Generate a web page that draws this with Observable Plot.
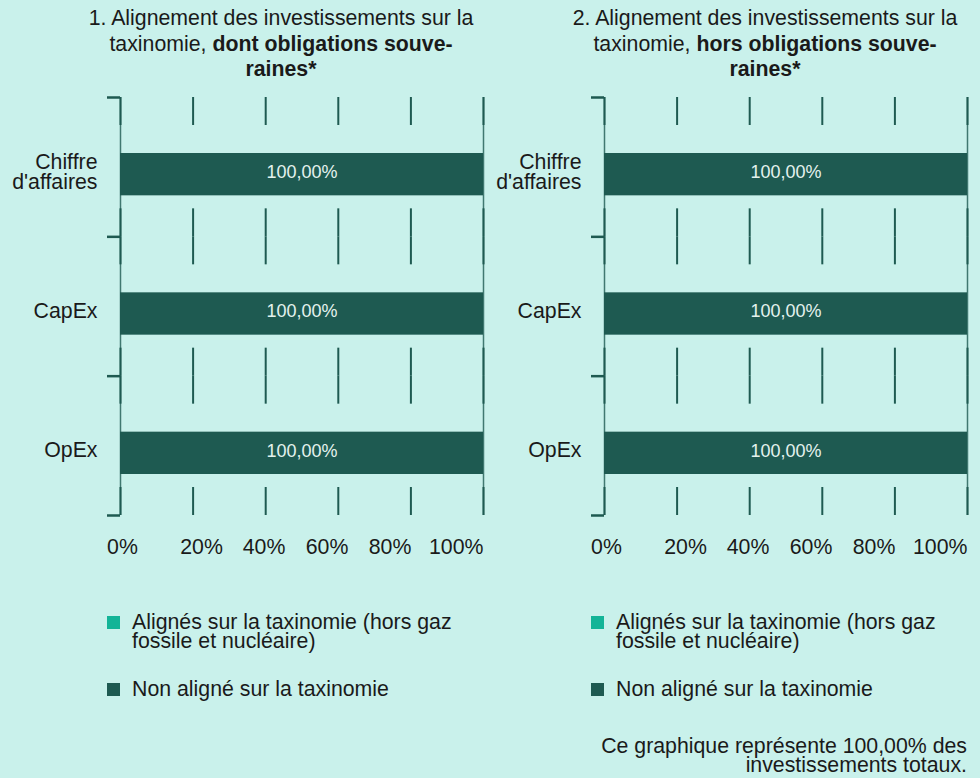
<!DOCTYPE html>
<html lang="fr">
<head>
<meta charset="utf-8">
<script src="https://cdn.jsdelivr.net/npm/d3@7"></script>
<script src="https://cdn.jsdelivr.net/npm/@observablehq/plot@0.6"></script>
<style>
  html, body { margin: 0; padding: 0; background: #c9f1eb; }
  body { font-family: "Liberation Sans", Arial, Helvetica, sans-serif; color: #1a1a1a; }
  #root { position: relative; width: 980px; height: 778px; overflow: hidden; }
  .title { position: absolute; top: 6px; width: 400px; text-align: center; font-size: 21.3px; line-height: 25.5px; }
  .chart { position: absolute; top: 90px; }
  .sw { position: absolute; width: 13px; height: 13px; }
  .ln { position: absolute; font-size: 21.3px; line-height: 19px; height: 19px; white-space: nowrap; }
  .ln.r { text-align: right; right: 13px; }
</style>
</head>
<body>
<div id="root"></div>
<script>
// ---------- data ----------
const categories = ["Chiffre d'affaires", "CapEx", "OpEx"];
const categoryLabels = ["Chiffre\nd'affaires", "CapEx", "OpEx"];

const titleLine1 = ["1. Alignement des investissements sur la", "2. Alignement des investissements sur la"];
const titleLine2Plain = ["taxinomie, ", "taxinomie, "];
const titleLine2Bold = ["dont obligations souve-", "hors obligations souve-"];
const titleLine3Bold = ["raines*", "raines*"];

const seriesNames = ["Alignés sur la taxinomie (hors gaz fossile et nucléaire)", "Non aligné sur la taxinomie"];
const legendLines = [["Alignés sur la taxinomie (hors gaz", "fossile et nucléaire)"], ["Non aligné sur la taxinomie"]];

// panel 1: including sovereign bonds
const alignedWith = [0, 0, 0];
const notAlignedWith = [100, 100, 100];
// panel 2: excluding sovereign bonds
const alignedWithout = [0, 0, 0];
const notAlignedWithout = [100, 100, 100];

const xTicks = [0, 20, 40, 60, 80, 100];
const footnoteLines = ["Ce graphique représente 100,00% des", "investissements totaux."];

// ---------- style ----------
const FONT = '"Liberation Sans", Arial, Helvetica, sans-serif';
const DARK = "#1e5a51";
const seriesColors = ["#13b497", DARK];
const TEXT = "#1a1a1a";
const PANEL_OFFSET = 484;
const LINE_STEP = 19.3;
// small horizontal nudges of the tick labels, as laid out in the reference
const tickLabelDx = {0: 2, 20: 8.4, 40: -1.7, 60: -11.3, 80: -20.9};

const fmtPct = v => d3.format(".2f")(v).replace(".", ",") + "%";

function panelChart(aligned, notAligned) {
  const n = categories.length;
  const rows = [];
  categories.forEach((c, i) => {
    rows.push({cat: c, i, series: seriesNames[0], x1: 0, x2: aligned[i], value: aligned[i]});
    rows.push({cat: c, i, series: seriesNames[1], x1: aligned[i], x2: aligned[i] + notAligned[i], value: notAligned[i]});
  });
  const grid = [];
  for (let i = 0; i < n; i++) for (const t of xTicks) grid.push({i, x: t});

  const height = 480, marginTop = 7, marginBottom = 55;
  const bandPx = (height - marginTop - marginBottom) / n;
  const seg = 28;

  const tickLabelMarks = xTicks.map(t => Plot.axisX([t], {
    tickSize: 0, tickPadding: 23.4, fill: TEXT, label: null,
    textAnchor: t === 100 ? "end" : "middle",
    dx: t === 100 ? 0 : tickLabelDx[t],
    tickFormat: d => d + "%"
  }));

  return Plot.plot({
    width: 490,
    height,
    marginTop,
    marginBottom,
    marginLeft: 120,
    marginRight: 7,
    style: {background: "transparent", fontFamily: FONT, fontSize: "21.3px", color: TEXT, overflow: "visible"},
    x: {domain: [0, 100]},
    y: {domain: [0, n], reverse: true},
    color: {domain: seriesNames, range: seriesColors},
    marks: [
      Plot.ruleX([0, 100], {stroke: DARK, strokeWidth: 1.5, strokeOpacity: 0.8}),
      Plot.ruleX(grid, {x: "x", y1: "i", y2: d => d.i + 1, stroke: DARK, strokeWidth: 2, insetBottom: bandPx - seg}),
      Plot.ruleX(grid, {x: "x", y1: "i", y2: d => d.i + 1, stroke: DARK, strokeWidth: 2, insetTop: bandPx - seg}),
      Plot.rect(rows.filter(d => d.value > 0), {x1: "x1", x2: "x2", y1: "i", y2: d => d.i + 1, fill: "series", insetTop: 56, insetBottom: 41}),
      Plot.text(rows.filter(d => d.value > 0 && d.series === seriesNames[1]), {
        x: d => (d.x1 + d.x2) / 2, y: d => d.i + 0.5, text: d => fmtPct(d.value),
        fill: "#e4f2ee", fontSize: 18, dy: 5
      }),
      Plot.axisY(d3.range(0, n + 1), {tickSize: 13, tickFormat: () => "", stroke: DARK, strokeWidth: 2.5, label: null}),
      Plot.axisY(d3.range(n).map(i => i + 0.5), {
        tickSize: 0, tickPadding: 23, dy: 5, lineHeight: 0.95, fill: TEXT, label: null,
        tickFormat: v => categoryLabels[Math.floor(v)]
      }),
      ...tickLabelMarks
    ]
  });
}

const root = document.getElementById("root");
const panelData = [[alignedWith, notAlignedWith], [alignedWithout, notAlignedWithout]];

function addLine(text, left, top, cls) {
  const el = document.createElement("div");
  el.className = "ln" + (cls ? " " + cls : "");
  if (left != null) el.style.left = left + "px";
  el.style.top = top + "px";
  el.textContent = text;
  root.appendChild(el);
}

panelData.forEach(([a, na], p) => {
  const off = p * PANEL_OFFSET;

  const title = document.createElement("div");
  title.className = "title";
  title.style.left = (off + 81) + "px";
  title.innerHTML = `${titleLine1[p]}<br>${titleLine2Plain[p]}<b>${titleLine2Bold[p]}</b><br><b>${titleLine3Bold[p]}</b>`;
  root.appendChild(title);

  const chart = document.createElement("div");
  chart.className = "chart";
  chart.style.left = off + "px";
  chart.appendChild(panelChart(a, na));
  root.appendChild(chart);

  const legendTops = [613, 680];
  seriesNames.forEach((s, k) => {
    const sw = document.createElement("div");
    sw.className = "sw";
    sw.style.left = (off + 107) + "px";
    sw.style.top = (legendTops[k] + 3) + "px";
    sw.style.background = seriesColors[k];
    root.appendChild(sw);
    legendLines[k].forEach((line, j) => addLine(line, off + 132, legendTops[k] + j * LINE_STEP));
  });
});

footnoteLines.forEach((line, j) => addLine(line, null, 736.5 + j * LINE_STEP, "r"));
</script>
</body>
</html>
